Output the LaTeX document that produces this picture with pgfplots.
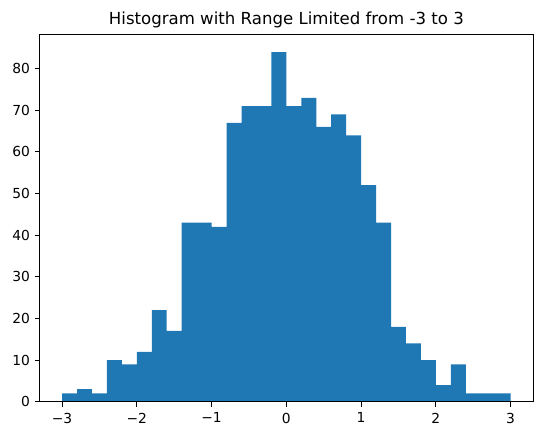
\documentclass[border={5.6pt 8.6pt 6.8pt 5.5pt}]{standalone}
\usepackage{pgfplots}
\pgfplotsset{compat=1.18}
\usepackage{fontspec}
\setmainfont{DejaVu Sans}
\definecolor{mplblue}{HTML}{1F77B4}
\begin{document}
\begin{tikzpicture}
\begin{axis}[
  scale only axis,
  width=357pt, height=265.7pt,
  xmin=-3.3, xmax=3.3,
  ymin=0, ymax=88.2,
  xtick={-3,-2,-1,0,1,2,3},
  xticklabels={−3,−2,−1,0,1,2,3},
  ytick={0,10,20,30,40,50,60,70,80},
  tick align=outside,
  xtick pos=bottom, ytick pos=left,
  major tick length=3.5pt,
  major tick style={black, line width=0.8pt},
  axis line style={black, line width=0.8pt},
  tick label style={font=\fontsize{10}{12}\selectfont},
  xticklabel style={yshift=-1pt},
  /pgf/number format/assume math mode=true,
  title={Histogram with Range Limited from -3 to 3},
  title style={font=\fontsize{12}{14}\selectfont, yshift=-5pt},
  after end axis/.code={\draw[black, line width=0.8pt] (rel axis cs:0,0) rectangle (rel axis cs:1,1);},
]
\addplot[ybar interval, fill=mplblue, draw=none] coordinates {
(-3.0,2) (-2.8,3) (-2.6,2) (-2.4,10) (-2.2,9) (-2.0,12) (-1.8,22) (-1.6,17)
(-1.4,43) (-1.2,43) (-1.0,42) (-0.8,67) (-0.6,71) (-0.4,71) (-0.2,84)
(0.0,71) (0.2,73) (0.4,66) (0.6,69) (0.8,64) (1.0,52) (1.2,43) (1.4,18)
(1.6,14) (1.8,10) (2.0,4) (2.2,9) (2.4,2) (2.6,2) (2.8,2) (3.0,2)
};
\end{axis}
\end{tikzpicture}
\end{document}
